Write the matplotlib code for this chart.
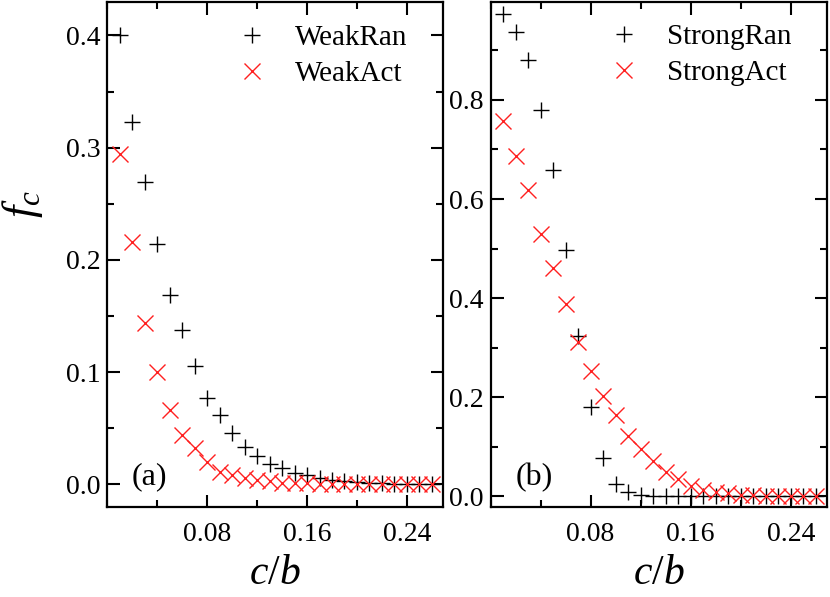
import matplotlib
matplotlib.use("Agg")
import matplotlib.pyplot as plt
from matplotlib.ticker import MultipleLocator, FixedLocator

plt.rcParams["font.family"] = ["Liberation Serif", "DejaVu Serif"]
plt.rcParams["mathtext.fontset"] = "custom"
plt.rcParams["mathtext.rm"] = "Liberation Serif"
plt.rcParams["mathtext.it"] = "Liberation Serif:italic"

# c/b values, 0.01 .. 0.26
cb = [round(0.01 * i, 2) for i in range(1, 27)]

weak_ran = [0.400, 0.323, 0.269, 0.214, 0.169, 0.137, 0.105, 0.077, 0.062, 0.046,
            0.033, 0.025, 0.018, 0.014, 0.010, 0.008, 0.0053, 0.0038, 0.0032, 0.0023,
            0.0015, 0.0010, 0.0006, 0.0003, 0.0001, 0.0]
weak_act = [0.294, 0.216, 0.144, 0.100, 0.066, 0.044, 0.032, 0.020, 0.011, 0.008,
            0.0053, 0.0033, 0.0024, 0.0015, 0.0010, 0.0008, 0.0005, 0.0003, 0.0002, 0.0001,
            0.0, 0.0, 0.0, 0.0, 0.0, 0.0]
strong_ran = [0.973, 0.938, 0.880, 0.780, 0.659, 0.497, 0.323, 0.181, 0.077, 0.026,
              0.009, 0.002, 0.0007, 0.0, 0.0, 0.0, 0.0, 0.0, 0.0, 0.0,
              0.0, 0.0, 0.0, 0.0, 0.0, 0.0]
strong_act = [0.758, 0.687, 0.618, 0.529, 0.461, 0.389, 0.311, 0.254, 0.203, 0.165,
              0.121, 0.096, 0.071, 0.050, 0.035, 0.021, 0.013, 0.009, 0.0067, 0.0034,
              0.002, 0.0013, 0.001, 0.0007, 0.0003, 0.0]

xticks = [0.08, 0.16, 0.24]


def style_axis(ax, ylim, ymajor, yminor, anchor):
    ax.set_xlim(0, 0.269)
    ax.set_ylim(*ylim)
    ax.xaxis.set_major_locator(FixedLocator(xticks))
    ax.xaxis.set_minor_locator(MultipleLocator(0.04))
    ax.yaxis.set_major_locator(MultipleLocator(ymajor))
    ax.yaxis.set_minor_locator(MultipleLocator(yminor))
    ax.set_xticklabels([f"{t:.2f}" for t in xticks])
    ax.yaxis.set_major_formatter(plt.FormatStrFormatter("%.1f"))
    ax.tick_params(which="both", direction="in", top=True, right=True, width=1.5)
    ax.tick_params(which="major", length=9, labelsize=20)
    ax.tick_params(which="minor", length=5)
    ax.tick_params(axis="x", pad=11)
    ax.tick_params(axis="y", pad=5)
    for s in ax.spines.values():
        s.set_linewidth(1.6)
    ax.set_xlabel("$c/b$", fontsize=30)
    ax.xaxis.set_label_coords(0.5, -0.095)
    ax.legend(loc="upper right", bbox_to_anchor=anchor, frameon=False, fontsize=21,
              handlelength=1.2, handletextpad=0.88, borderaxespad=0.0,
              labelspacing=0.33, borderpad=0.2)


fig = plt.figure(figsize=(8.3, 5.97), dpi=100)
ax1 = fig.add_axes([0.129, 0.151, 0.405, 0.846])
ax2 = fig.add_axes([0.591, 0.151, 0.4055, 0.846])

mk = dict(linestyle="none", markersize=12, markeredgewidth=1.0)

ax1.plot(cb, weak_ran, marker="+", color="black", label="WeakRan", **mk)
ax1.plot(cb, weak_act, marker="x", color="#ff2020", label="WeakAct", **mk)
style_axis(ax1, (-0.0202, 0.430), 0.1, 0.05, (0.911, 0.966))
ax1.set_ylabel("$f_c$", fontsize=32)
ax1.yaxis.set_label_coords(-0.185, 0.60)
ax1.text(0.125, 0.06, "(a)", transform=ax1.transAxes, fontsize=23,
         ha="center", va="center")

ax2.plot(cb, strong_ran, marker="+", color="black", label="StrongRan", **mk)
ax2.plot(cb, strong_act, marker="x", color="#ff2020", label="StrongAct", **mk)
style_axis(ax2, (-0.021, 0.998), 0.2, 0.1, (0.911, 0.968))
ax2.text(0.129, 0.057, "(b)", transform=ax2.transAxes, fontsize=23,
         ha="center", va="center")

fig.savefig("out.png", dpi=100)
